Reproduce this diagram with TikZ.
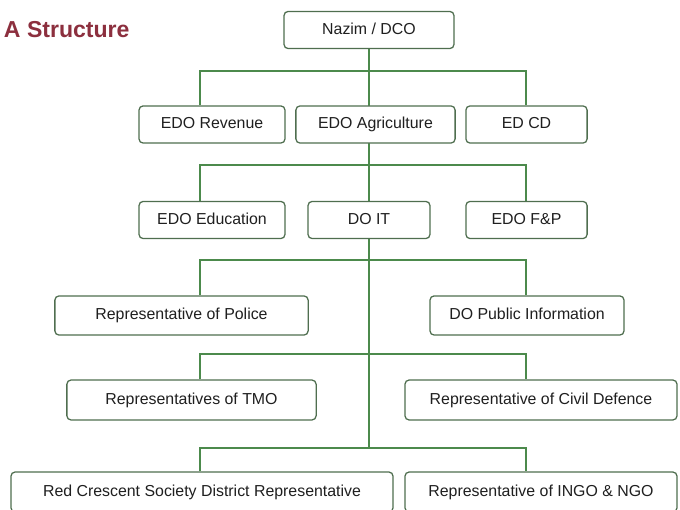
\documentclass[tikz,border=0pt]{standalone}
\usepackage{fontspec}
\setmainfont{Liberation Sans}
\usetikzlibrary{backgrounds}
\tikzset{
  orgbox/.style={draw=boxcol, fill=white, rounded corners=3pt, line width=0.9pt,
                 minimum height=0.93cm, inner sep=0, text height=1.5ex, text depth=0.3ex,
                 font=\fontsize{11.3}{13}\selectfont, text=black!88},
  link/.style={draw=linkcol, line width=0.9pt},
}
\definecolor{boxcol}{HTML}{4F6E4F}
\definecolor{linkcol}{HTML}{4C8A4C}
\definecolor{titlecol}{HTML}{8C2F3E}

\begin{document}
\begin{tikzpicture}[x=0.025cm, y=-0.025cm]
    % canvas 680 x 510 px, bottom row runs off the edge
    \useasboundingbox (0,0) rectangle (680,510);
    \clip (0,0) rectangle (680,510);

    \node[font=\bfseries\fontsize{16.4}{18}\selectfont, text=titlecol, anchor=west]
      (title) at (-1,30) {A Structure};

    % --- top ---
    \node[orgbox, minimum width=4.25cm] (nazim) at (369,30) {Nazim / DCO};

    % --- row 1 ---
    \node[orgbox, minimum width=3.65cm] (rev)  at (212,124.5) {EDO Revenue};
    \node[orgbox, minimum width=3.98cm] (agri) at (375.5,124.5) {EDO Agriculture};
    \node[orgbox, minimum width=3.03cm] (edcd) at (526.5,124.5) {ED CD};

    % --- row 2 ---
    \node[orgbox, minimum width=3.65cm] (edu)  at (212,220) {EDO Education};
    \node[orgbox, minimum width=3.05cm] (doit) at (369,220) {DO IT};
    \node[orgbox, minimum width=3.03cm] (fp)   at (526.5,220) {EDO F\&P};

    % --- row 3 ---
    \node[orgbox, minimum width=6.33cm, minimum height=0.98cm] (police)  at (181.5,315.5) {Representative of Police};
    \node[orgbox, minimum width=4.85cm, minimum height=0.98cm] (pubinfo) at (527,315.5) {DO Public Information};

    % --- row 4 ---
    \node[orgbox, minimum width=6.23cm, minimum height=1.0cm] (tmo)   at (191.5,400) {Representatives of TMO};
    \node[orgbox, minimum width=6.8cm,  minimum height=1.0cm] (civil) at (541,400) {Representative of Civil Defence};

    % --- row 5 ---
    \node[orgbox, minimum width=9.55cm, minimum height=1.0cm] (redc) at (202,492) {Red Crescent Society District Representative};
    \node[orgbox, minimum width=6.8cm,  minimum height=1.0cm] (ingo) at (541,492) {Representative of INGO \& NGO};

    \begin{scope}[on background layer]
      % trunk, runs behind the boxes
      \coordinate (trunkend) at (369,448);
      \draw[link] (nazim.south) -- (trunkend);

      % buses: left drop at x=200, right drop at x=526
      \foreach \by/\lft/\rgt in {71/rev/edcd, 165/edu/fp, 260/police/pubinfo,
                                 354/tmo/civil, 448/redc/ingo} {
        \draw[link] (\lft.north -| 200,0) -- (200,\by) -- (526,\by) -- (\rgt.north -| 526,0);
      }
    \end{scope}
\end{tikzpicture}
\end{document}
